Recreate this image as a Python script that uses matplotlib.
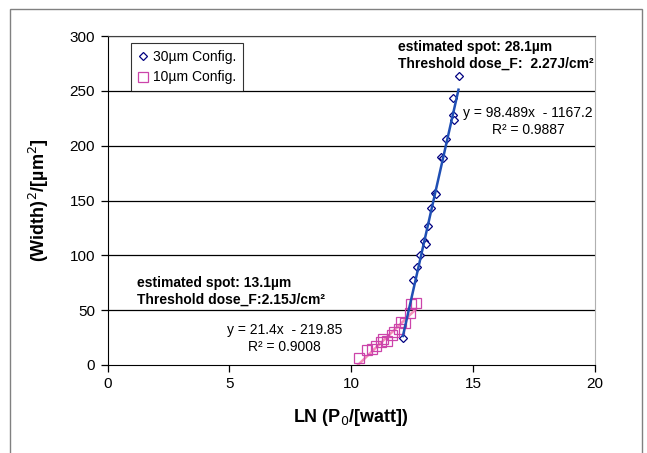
import matplotlib
matplotlib.use('Agg')
import matplotlib.pyplot as plt
from matplotlib.patches import Rectangle

plt.rcParams['font.family'] = ['Liberation Sans', 'DejaVu Sans']

# 30um configuration (diamonds)
x30 = [12.12, 12.53, 12.71, 12.81, 13.00, 13.05, 13.16, 13.26, 13.42, 13.47,
       13.70, 13.75, 13.90, 14.19, 14.21, 14.19, 14.40]
y30 = [24.9, 77.4, 89.0, 100.2, 113.0, 110.5, 126.6, 143.3, 156.5, 155.5,
       189.5, 188.5, 205.9, 227.8, 223.8, 243.6, 263.3]

# 10um configuration (squares)
x10 = [10.33, 10.66, 10.85, 11.03, 11.20, 11.30, 11.45, 11.68, 11.75, 11.95,
       12.06, 12.20, 12.40, 12.45, 12.67]
y10 = [6.5, 13.5, 15.0, 17.0, 21.0, 23.5, 22.0, 27.0, 30.5, 33.0,
       39.5, 38.0, 47.0, 56.0, 56.5]

# trendline coefficients as printed on the chart
fit30 = (98.489, -1167.2)
fit10 = (21.4, -219.85)

xticks = [0, 5, 10, 15, 20]
yticks = [0, 50, 100, 150, 200, 250, 300]

fig = plt.figure(figsize=(6.47, 4.53), dpi=100)
fig.patches.append(Rectangle((10 / 647, -0.05), 632 / 647, 1.05 - 9 / 453,
                             transform=fig.transFigure, fill=False,
                             edgecolor='#808080', linewidth=1.0))
ax = fig.add_axes([107.5 / 647, 1 - 365 / 453, 487.5 / 647, 329 / 453])

for y in yticks[1:]:
    ax.axhline(y, color='black', linewidth=0.9, zorder=0)

ax.plot(x30, y30, linestyle='none', marker='D', markersize=4.2,
        markerfacecolor='white', markeredgecolor='#000080',
        markeredgewidth=0.9, label='30µm Config.', zorder=3)
ax.plot(x10, y10, linestyle='none', marker='s', markersize=6.5,
        markerfacecolor='none', markeredgecolor='#CC44AA',
        markeredgewidth=0.9, label='10µm Config.', zorder=3)

lx30 = [min(x30), max(x30)]
ax.plot(lx30, [fit30[0] * x + fit30[1] for x in lx30],
        color='#1F4FB4', linewidth=1.8, zorder=4)
lx10 = [min(x10) - 0.05, max(x10)]
ax.plot(lx10, [fit10[0] * x + fit10[1] for x in lx10],
        color='#F48FB8', linewidth=1.8, zorder=2)

ax.set_xlim(0, 20)
ax.set_ylim(0, 300)
ax.set_xticks(xticks)
ax.set_yticks(yticks)
ax.tick_params(direction='out', length=5, width=0.9, labelsize=11,
               colors='black', pad=4)
ax.spines['left'].set_color('black')
ax.spines['bottom'].set_color('black')
ax.spines['top'].set_color('#404040')
ax.spines['right'].set_color('#B0B0B0')

ax.set_xlabel('LN (P$_0$/[watt])', fontsize=13, fontweight='bold', labelpad=11)
ax.set_ylabel('(Width)$^2$/[µm$^2$]', fontsize=13, fontweight='bold', labelpad=13)

ax.text(11.9, 296, 'estimated spot: 28.1µm\nThreshold dose_F:  2.27J/cm²',
        fontsize=10, fontweight='bold', ha='left', va='top', linespacing=1.25)
ax.text(17.25, 236, 'y = 98.489x  - 1167.2\nR² = 0.9887',
        fontsize=10, ha='center', va='top', linespacing=1.25)
ax.text(1.2, 81.5, 'estimated spot: 13.1µm\nThreshold dose_F:2.15J/cm²',
        fontsize=10, fontweight='bold', ha='left', va='top', linespacing=1.25)
ax.text(7.26, 38.5, 'y = 21.4x  - 219.85\nR² = 0.9008',
        fontsize=10, ha='center', va='top', linespacing=1.25)

leg = ax.legend(loc='upper left', bbox_to_anchor=(0.048, 0.98),
                borderaxespad=0, fontsize=10, frameon=True, fancybox=False,
                handlelength=0.8, handletextpad=0.3, borderpad=0.5,
                labelspacing=0.5)
leg.get_frame().set_edgecolor('black')
leg.get_frame().set_linewidth(0.8)

fig.savefig('out.png', dpi=100)
